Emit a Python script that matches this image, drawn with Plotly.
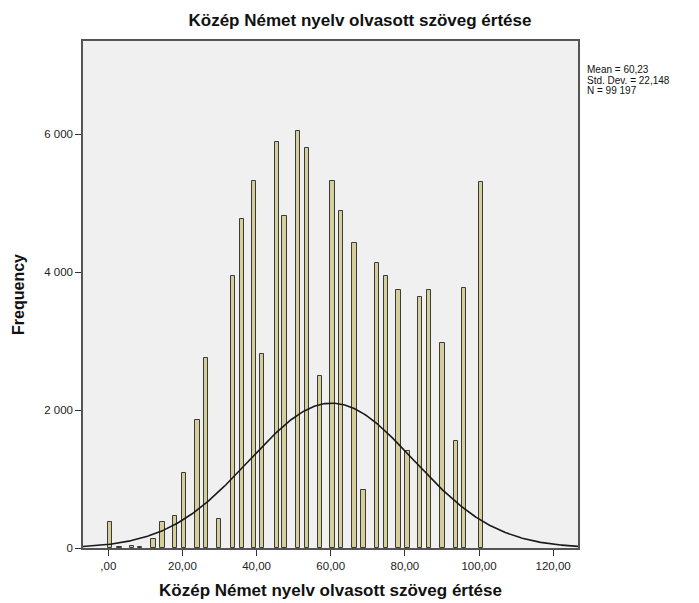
import numpy as np
import plotly.graph_objects as go

# Histogram bars (bin centres and counts)
bin_centers = [0.46, 2.97, 6.31, 8.55, 12.14, 14.57, 17.99, 20.50, 24.01, 26.36,
               29.94, 33.56, 35.99, 39.38, 41.54, 45.43, 47.48, 51.09, 53.52, 57.11,
               60.43, 62.69, 66.36, 68.79, 72.40, 74.83, 78.23, 80.66, 84.08, 86.51,
               90.10, 93.71, 95.95, 100.54]
counts = [380, 20, 35, 15, 126, 373, 470, 1089, 1858, 2753,
          427, 3943, 4766, 5322, 2821, 5884, 4810, 6048, 5805, 2492,
          5322, 4887, 4418, 837, 4128, 3943, 3736, 1403, 3639, 3736,
          2975, 1549, 3774, 5303]
bin_width = 1.176

# Summary statistics
mean_val = 60.23
std_val = 22.148
n_val = 99197

x_tick_vals = [0, 20, 40, 60, 80, 100, 120]
x_tick_text = [",00", "20,00", "40,00", "60,00", "80,00", "100,00", "120,00"]
y_tick_vals = [0, 2000, 4000, 6000]
y_tick_text = ["0", "2 000", "4 000", "6 000"]

title_text = "Közép Német nyelv olvasott szöveg értése"
x_range = [-6.83, 126.7]
y_range = [0, 7354]

FONT = "Liberation Sans, Arial"

fig = go.Figure()

fig.add_trace(go.Bar(
    x=bin_centers, y=counts, width=bin_width,
    marker=dict(color="#d4ce98", line=dict(color="#3a3a3a", width=1)),
    showlegend=False, hoverinfo="x+y",
))

# Normal curve scaled to the histogram
xs = np.linspace(x_range[0], x_range[1], 400)
ys = n_val * bin_width / (std_val * np.sqrt(2 * np.pi)) * np.exp(-0.5 * ((xs - mean_val) / std_val) ** 2)
fig.add_trace(go.Scatter(
    x=xs, y=ys, mode="lines", line=dict(color="#1a1a1a", width=1.6),
    showlegend=False, hoverinfo="skip",
))

# Statistics box to the right of the plot, one line per annotation for tight spacing
mean_txt = f"{mean_val:.2f}".replace(".", ",")
std_txt = f"{std_val:.3f}".replace(".", ",")
n_txt = f"{n_val:,}".replace(",", " ")
stat_lines = [f"Mean = {mean_txt}", f"Std. Dev. = {std_txt}", f"N = {n_txt}"]
for i, line in enumerate(stat_lines):
    fig.add_annotation(
        x=1.0, y=0.943 - i * 0.0207, xref="paper", yref="paper",
        xanchor="left", yanchor="middle", xshift=7,
        text=line, showarrow=False, align="left",
        font=dict(family=FONT, size=10, color="#111"),
    )

fig.update_layout(
    width=699, height=603,
    margin=dict(l=83, r=121, t=41, b=55, autoexpand=False),
    paper_bgcolor="white", plot_bgcolor="#f0f0f0",
    title=dict(text=f"<b>{title_text}</b>", x=0.515, xanchor="center", y=0.966, yanchor="middle",
               font=dict(family=FONT, size=17, color="#111")),
    font=dict(family=FONT, size=11, color="#222"),
    bargap=0,
    xaxis=dict(
        range=x_range, tickvals=x_tick_vals, ticktext=x_tick_text,
        ticks="outside", ticklen=6, tickcolor="#333", tickwidth=1.2,
        showgrid=False, zeroline=False, automargin=False,
        showline=True, linecolor="#555", linewidth=1.5, mirror=True,
        tickfont=dict(size=11.5, color="#222"),
        title=dict(text=f"<b>{title_text}</b>", standoff=14,
                   font=dict(family=FONT, size=17, color="#111")),
    ),
    yaxis=dict(
        range=y_range, tickvals=y_tick_vals, ticktext=y_tick_text,
        ticks="outside", ticklen=6, tickcolor="#333", tickwidth=1.2,
        showgrid=False, zeroline=False, automargin=False,
        showline=True, linecolor="#555", linewidth=1.5, mirror=True,
        tickfont=dict(size=11.5, color="#222"),
        title=dict(text="<b>Frequency</b>", standoff=16,
                   font=dict(family=FONT, size=16, color="#111")),
    ),
)

fig.write_html("out.html")
